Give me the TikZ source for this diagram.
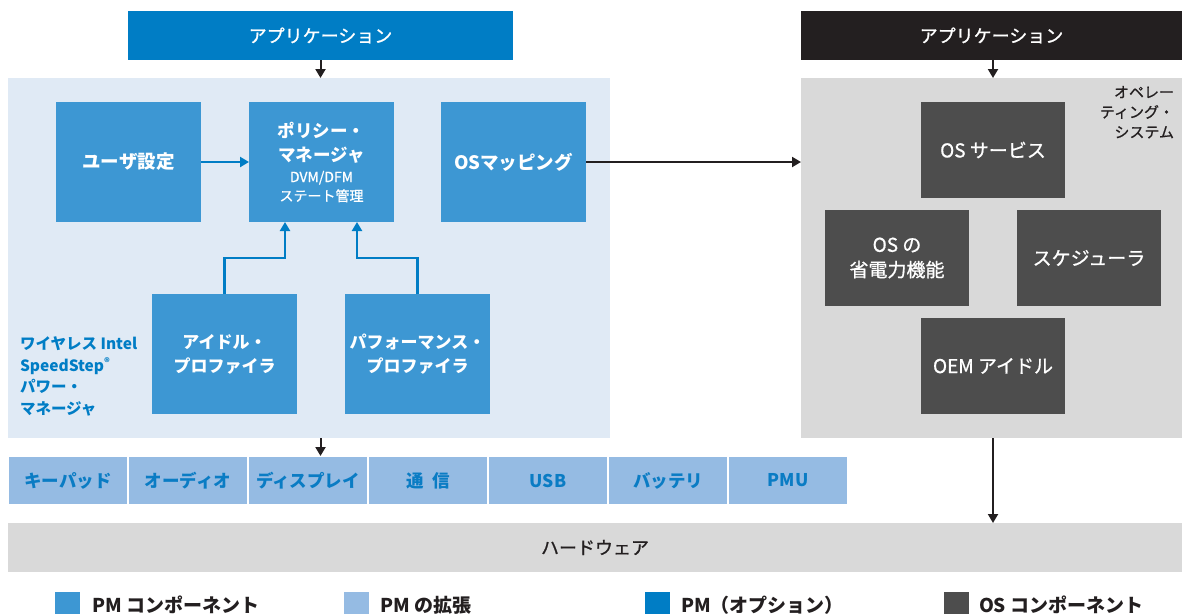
\documentclass[tikz,border=0pt]{standalone}
\usepackage{fontspec}
\setmainfont{Noto Sans CJK JP}
\newfontfamily\medfont{Noto Sans CJK JP}[FakeBold=0.9]
\usetikzlibrary{arrows.meta,calc}
\definecolor{pmopt}{RGB}{0,125,197}
\definecolor{pmcomp}{RGB}{61,151,211}
\definecolor{pmext}{RGB}{149,187,227}
\definecolor{pmbg}{RGB}{224,234,245}
\definecolor{osbg}{RGB}{217,217,217}
\definecolor{oscomp}{RGB}{77,77,77}
\definecolor{appblack}{RGB}{35,31,32}
\definecolor{blutext}{RGB}{10,124,196}
\definecolor{legtext}{RGB}{35,31,32}
\tikzset{
  plain/.style={inner sep=0pt, outer sep=0pt},
  appbox/.style={plain, minimum width=#1, minimum height=49pt, text=white, font=\fontsize{18}{22}\medfont},
  compbox/.style={plain, fill=pmcomp, minimum width=145pt, minimum height=120pt, text=white, align=center, font=\fontsize{18.5}{24}\selectfont\bfseries},
  osbox/.style={plain, fill=oscomp, minimum width=144pt, minimum height=96pt, text=white, align=center, font=\fontsize{19}{25}\medfont},
  extcell/.style={plain, fill=pmext, draw=white, line width=1.2pt, minimum width=120pt, minimum height=49pt, text=blutext, font=\fontsize{17.5}{22}\selectfont\bfseries},
  legsq/.style={plain, minimum width=25pt, minimum height=22pt, anchor=north west},
  legtxt/.style={plain, anchor=west, text=legtext, font=\fontsize{19}{22}\selectfont\bfseries},
  blackarrow/.style={draw=appblack, line width=2pt, -{Triangle[length=9pt,width=10pt]}},
  bluearrow/.style={draw=pmopt, line width=2.4pt, -{Triangle[length=9pt,width=10pt]}},
}
\begin{document}
\begin{tikzpicture}[x=1pt,y=-1pt]
\useasboundingbox (0,0) rectangle (1182,614);
% regions
\node[plain, fill=pmbg, minimum width=602pt, minimum height=360pt, anchor=north west] (pmreg) at (8,78) {};
\node[plain, fill=osbg, minimum width=381pt, minimum height=360pt, anchor=north west] (osreg) at (801,78) {};
% application boxes
\node[appbox=385pt, fill=pmopt] (app1) at (320.5,35.5) {アプリケーション};
\node[appbox=381pt, fill=appblack] (app2) at (991.5,35.5) {アプリケーション};
% PM components
\node[compbox] (user) at (128.5,162) {ユーザ設定};
\node[compbox, font=\fontsize{17.5}{24}\selectfont\bfseries] (pol) at (321.5,162) {ポリシー・\\マネージャ\\[-3pt]{\fontsize{14}{19}\mdseries\medfont DVM/DFM}\\[-5pt]{\fontsize{14}{19}\mdseries\medfont ステート管理}};
\node[compbox] (osmap) at (513.5,162) {OSマッピング};
\node[compbox, font=\fontsize{17}{24}\selectfont\bfseries] (idle) at (224.5,354) {アイドル・\\プロファイラ};
\node[compbox, font=\fontsize{17}{24}\selectfont\bfseries] (perf) at (417.5,354) {パフォーマンス・\\プロファイラ};
\node[plain, anchor=north west, align=left, text=pmopt, font=\fontsize{15.5}{21.5}\selectfont\bfseries] (pmlabel) at (20,337) {ワイヤレス Intel\\SpeedStep\textsuperscript{®}\\パワー・\\マネージャ};
% OS components
\node[osbox] (ossvc) at (993,150) {OS サービス};
\node[osbox] (ospow) at (897,258) {OS の\\省電力機能};
\node[osbox] (sched) at (1089,258) {スケジューラ};
\node[osbox] (oem) at (993,366) {OEM アイドル};
\node[plain, anchor=north east, align=right, text=appblack, font=\fontsize{15}{20}\medfont] (oslabel) at (1174,86) {オペレー\\ティング・\\システム};
% extension row
\node[extcell, anchor=north west] (e1) at (8,456) {キーパッド};
\node[extcell, anchor=north west] (e2) at (128,456) {オーディオ};
\node[extcell, anchor=north west] (e3) at (248,456) {ディスプレイ};
\node[extcell, anchor=north west] (e4) at (368,456) {通\hspace{9pt}信};
\node[extcell, anchor=north west] (e5) at (488,456) {USB};
\node[extcell, anchor=north west] (e6) at (608,456) {バッテリ};
\node[extcell, anchor=north west] (e7) at (728,456) {PMU};
% hardware
\node[plain, fill=osbg, minimum width=1174pt, minimum height=49pt, anchor=north west, text=appblack, font=\fontsize{18}{22}\medfont] (hw) at (8,523) {ハードウェア};
% arrows
\draw[blackarrow] (app1.south) -- (pmreg.north -| app1.south);
\draw[blackarrow] (app2.south -| ossvc.north) -- (osreg.north -| ossvc.north);
\draw[blackarrow] (pmreg.south -| app1.south) -- (e3.north -| app1.south);
\draw[blackarrow] (osreg.south -| ossvc.north) -- (hw.north -| ossvc.north);
\draw[blackarrow] (osmap.east) -- (osreg.west |- osmap.east);
\draw[bluearrow] (user.east) -- (pol.west);
\coordinate (j1) at (285,258);
\coordinate (j2) at (357,258);
\draw[bluearrow] (idle.north) |- (j1) -- (j1 |- pol.south);
\draw[bluearrow] (perf.north) |- (j2) -- (j2 |- pol.south);
% legend
\node[legsq, fill=pmcomp] (l1) at (55,592) {};
\node[legtxt] (l1t) at (92,605) {PM コンポーネント};
\node[legsq, fill=pmext] (l2) at (344,592) {};
\node[legtxt] (l2t) at (380,605) {PM の拡張};
\node[legsq, fill=pmopt] (l3) at (645,592) {};
\node[legtxt] (l3t) at (681,605) {PM（オプション）};
\node[legsq, fill=oscomp] (l4) at (944,592) {};
\node[legtxt] (l4t) at (979,605) {OS コンポーネント};
\end{tikzpicture}
\end{document}
